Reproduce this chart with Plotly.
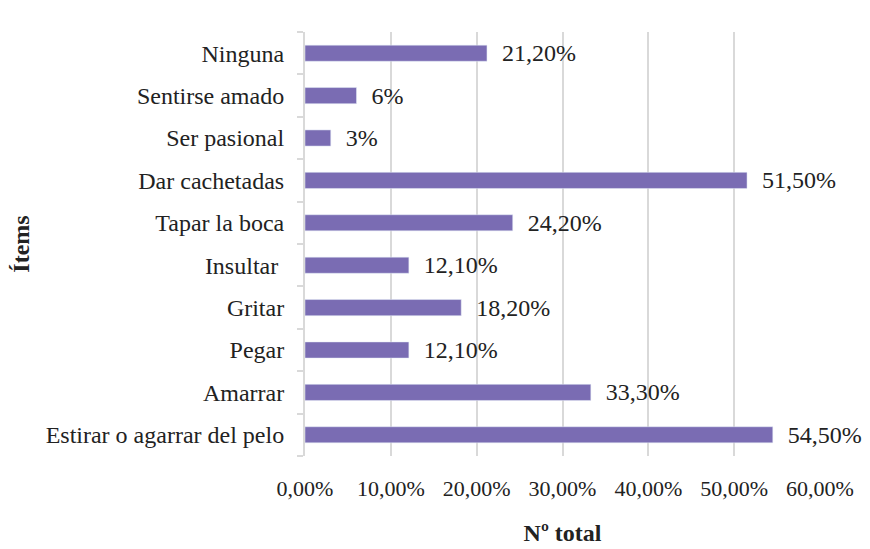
import plotly.graph_objects as go

items = ["Estirar o agarrar del pelo", "Amarrar", "Pegar", "Gritar", "Insultar ",
         "Tapar la boca", "Dar cachetadas", "Ser pasional", "Sentirse amado", "Ninguna"]
values = [54.5, 33.3, 12.1, 18.2, 12.1, 24.2, 51.5, 3, 6, 21.2]
labels = ["54,50%", "33,30%", "12,10%", "18,20%", "12,10%",
          "24,20%", "51,50%", "3%", "6%", "21,20%"]
tick_vals = [0, 10, 20, 30, 40, 50, 60]
tick_text = ["0,00%", "10,00%", "20,00%", "30,00%", "40,00%", "50,00%", "60,00%"]

FONT = "Liberation Serif"

fig = go.Figure(go.Bar(
    y=items,
    x=values,
    orientation='h',
    marker=dict(color='#7a6cb3'),
    text=labels,
    texttemplate='  %{text}',
    textposition='outside',
    constraintext='none',
    textfont=dict(size=24, color='#222222', family=FONT),
    cliponaxis=False,
    hoverinfo='skip'
))

# page body adds an 8px margin, so the figure is 8px smaller
fig.update_layout(
    width=862, height=541,
    margin=dict(l=297, r=50, t=24, b=93),
    plot_bgcolor='white', paper_bgcolor='white',
    font=dict(family=FONT, size=24, color='#222222'),
    bargap=0.62,
    showlegend=False
)

fig.update_xaxes(
    range=[0, 60], automargin=False,
    tickvals=tick_vals, ticktext=tick_text,
    tickfont=dict(size=22),
    showgrid=True, gridcolor='#d9d9d9', gridwidth=2,
    zeroline=False, showline=False,
    ticks='', ticklabelstandoff=17,
    title=dict(text='<b>Nº total</b>', font=dict(size=24), standoff=24)
)

fig.update_yaxes(
    automargin=False,
    showline=True, linecolor='#d9d9d9', linewidth=2,
    ticks='outside', tickson='boundaries', ticklen=6, tickcolor='#d9d9d9', tickwidth=2,
    ticklabelstandoff=14,
    title=dict(text='<b>Ítems</b>', font=dict(size=24), standoff=14)
)

fig.write_html("out.html")
